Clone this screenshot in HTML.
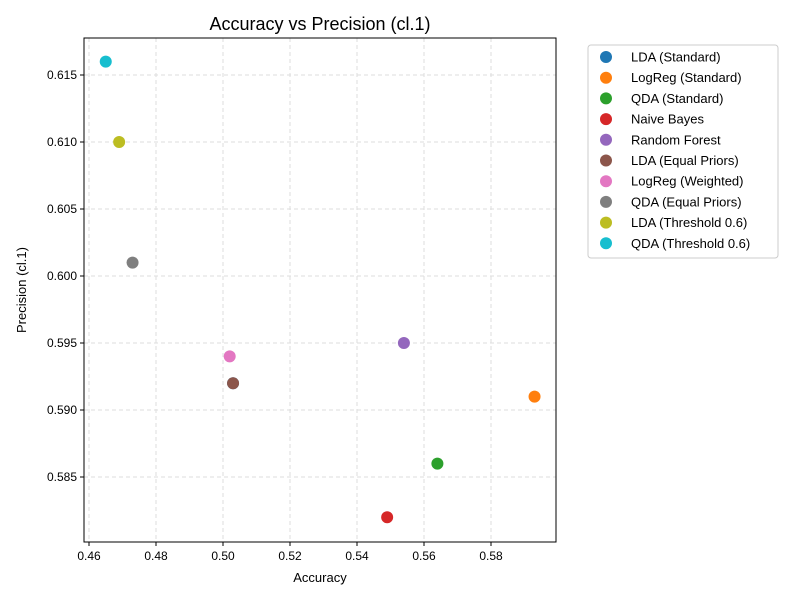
<!DOCTYPE html>
<html><head><meta charset="utf-8"><style>
body{margin:0;background:#fff;font-family:"Liberation Sans","DejaVu Sans",sans-serif}
</style></head><body>
<svg id="chart" width="800" height="600" xmlns="http://www.w3.org/2000/svg"></svg>
<script>
const labels=["LDA (Standard)","LogReg (Standard)","QDA (Standard)","Naive Bayes","Random Forest","LDA (Equal Priors)","LogReg (Weighted)","QDA (Equal Priors)","LDA (Threshold 0.6)","QDA (Threshold 0.6)"];
const accuracy=[0.503,0.593,0.564,0.549,0.554,0.503,0.502,0.473,0.469,0.465];
const precision=[0.592,0.591,0.586,0.582,0.595,0.592,0.594,0.601,0.610,0.616];
const colors=["#1f77b4","#ff7f0e","#2ca02c","#d62728","#9467bd","#8c564b","#e377c2","#7f7f7f","#bcbd22","#17becf"];
const xTicks=[0.46,0.48,0.50,0.52,0.54,0.56,0.58];
const yTicks=[0.585,0.590,0.595,0.600,0.605,0.610,0.615];
const L=84,R=556,T=38,B=542;
const x=v=>89+(v-0.46)*3350;
const y=v=>276-(v-0.6)*13400;
const svg=document.getElementById('chart');
const NS="http://www.w3.org/2000/svg";
function mk(tag,attrs,text){const e=document.createElementNS(NS,tag);for(const k in attrs)e.setAttribute(k,attrs[k]);if(text!==undefined)e.textContent=text;svg.appendChild(e);return e;}
let e;
e=mk('rect',{x:L,y:T,width:R-L,height:B-T,fill:'#fff'});


xTicks.forEach(t=>{
 e=mk('line',{x1:x(t),x2:x(t),y1:T,y2:B,stroke:'#ddd','stroke-dasharray':'4,3'});
 
 
 e=mk('line',{x1:x(t),x2:x(t),y1:B,y2:B+4,stroke:'#000'});
 
 
 e=mk('text',{x:x(t),y:B+18,'text-anchor':'middle','font-size':12},t.toFixed(2));
 
 
});
yTicks.forEach(t=>{
 e=mk('line',{x1:L,x2:R,y1:y(t),y2:y(t),stroke:'#ddd','stroke-dasharray':'4,3'});
 
 
 e=mk('line',{x1:L-4,x2:L,y1:y(t),y2:y(t),stroke:'#000'});
 
 
 e=mk('text',{x:L-7,y:y(t)+4,'text-anchor':'end','font-size':12},t.toFixed(3));
 
 
});
labels.forEach((n,i)=>{
 e=mk('circle',{cx:x(accuracy[i]),cy:y(precision[i]),r:6,fill:colors[i]});
 
 
});
e=mk('rect',{x:L,y:T,width:R-L,height:B-T,fill:'none',stroke:'#000'});


e=mk('text',{x:320,y:30,'text-anchor':'middle','font-size':18},'Accuracy vs Precision (cl.1)');


e=mk('text',{x:320,y:582,'text-anchor':'middle','font-size':13},'Accuracy');


e=mk('text',{x:26,y:290,'text-anchor':'middle','font-size':13,transform:'rotate(-90 26 290)'},'Precision (cl.1)');


e=mk('rect',{x:588,y:45,width:190,height:213,rx:3,fill:'#fff',stroke:'#ccc'});


labels.forEach((n,i)=>{
 const yy=57+i*20.7;
 e=mk('circle',{cx:606,cy:yy,r:6,fill:colors[i]});
 
 
 e=mk('text',{x:631,y:yy+4.5,'font-size':13},n);
 
 
});
</script>
</body></html>
